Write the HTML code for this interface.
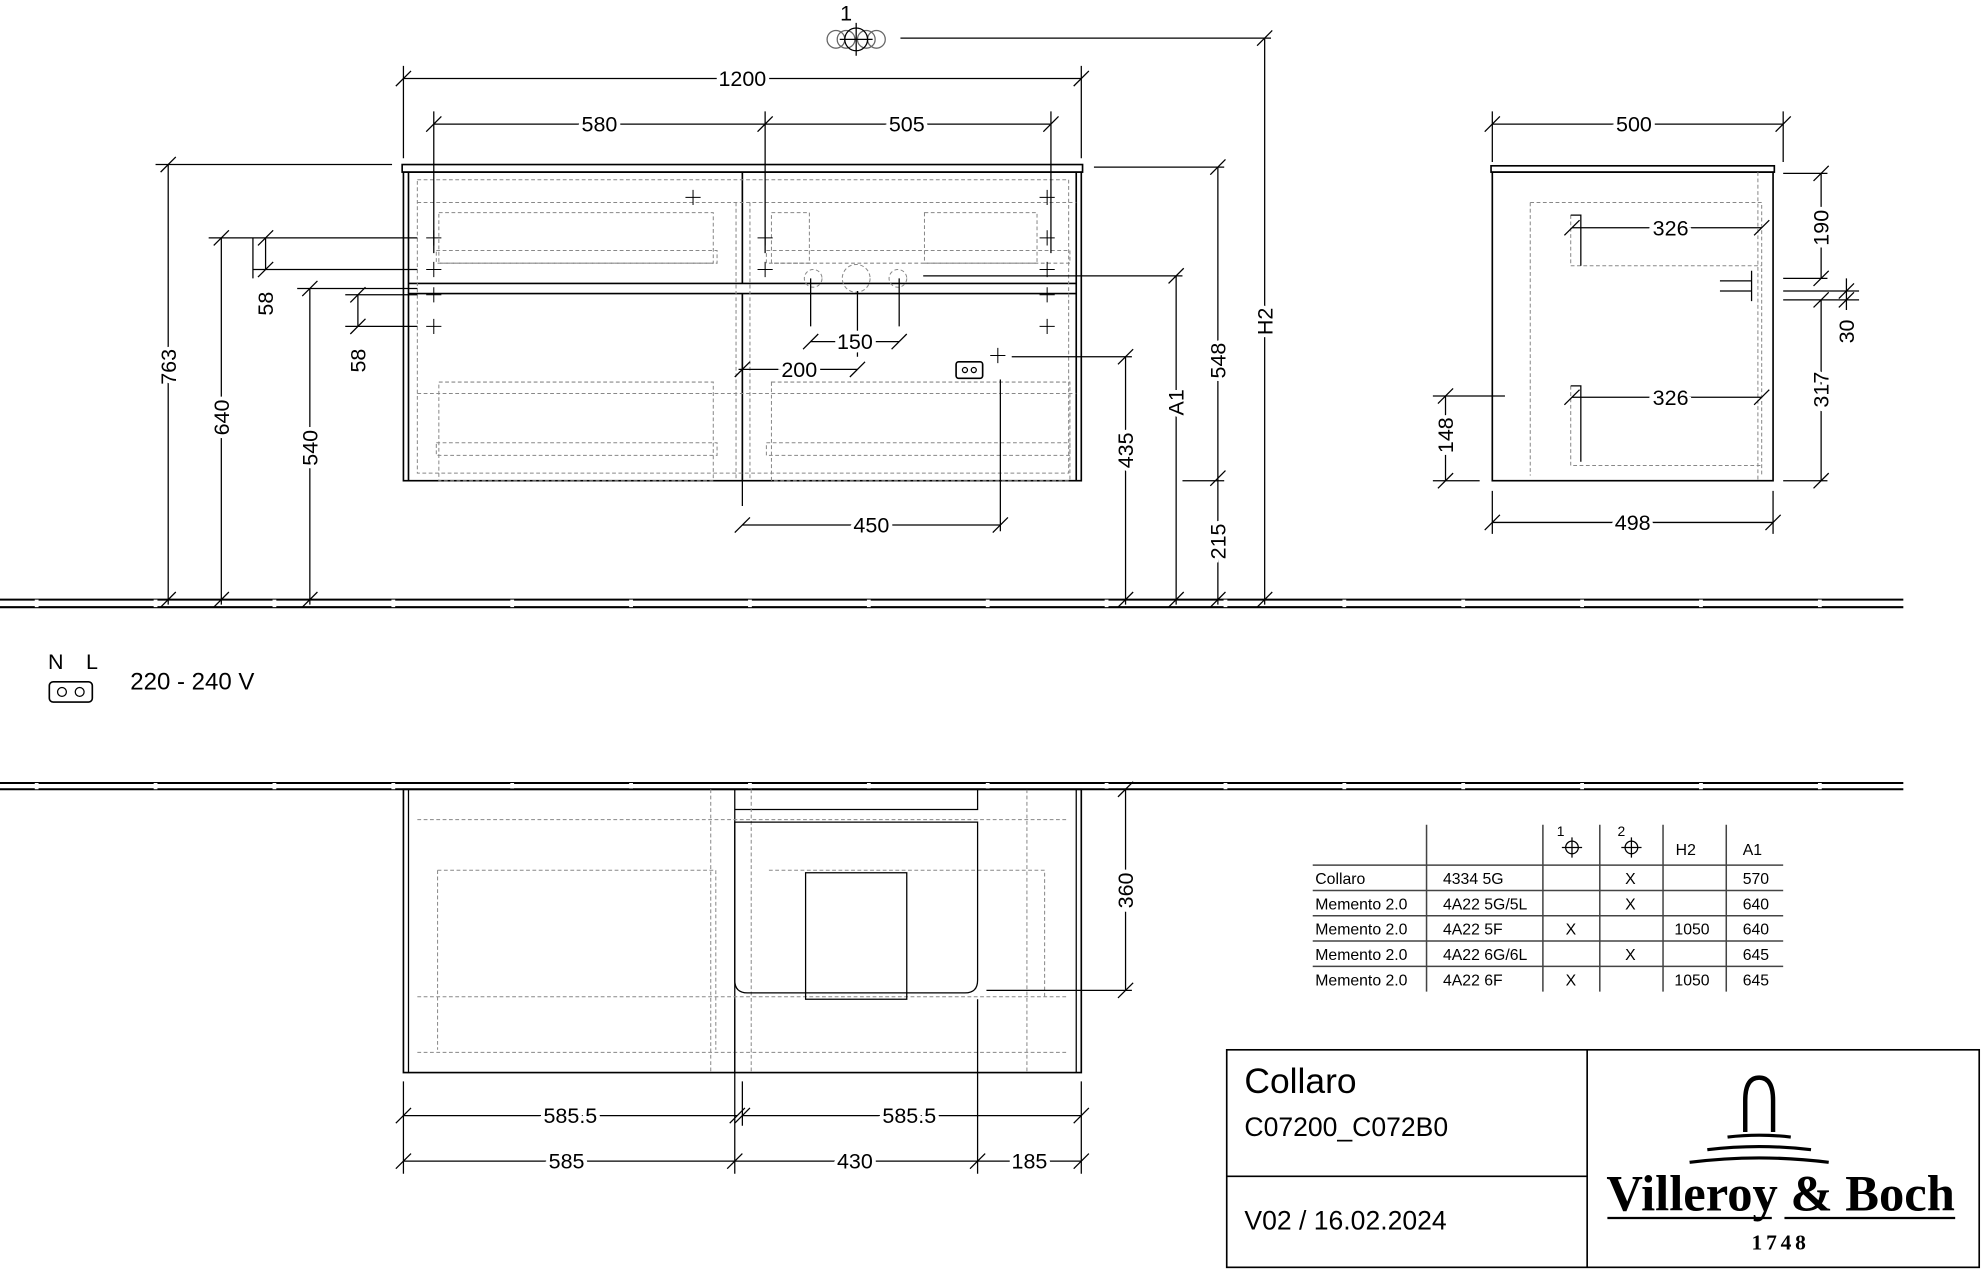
<!DOCTYPE html>
<html><head><meta charset="utf-8"><style>
html,body{margin:0;padding:0;background:#fff}
svg{display:block}
text{font-family:"Liberation Sans",sans-serif;fill:#000}
.d{font-family:"DejaVu Sans Condensed","DejaVu Sans","Liberation Sans",sans-serif;font-size:17px}
</style></head><body>
<svg width="1983" height="1270" viewBox="0 0 1568 1004" xmlns="http://www.w3.org/2000/svg">
<defs><path id="t" d="M-6,6 L6,-6" stroke="#000" stroke-width="1"/></defs>
<g fill="none" stroke="#000" stroke-width="1">
<path d="M0,474H1505M0,480H1505M0,619H1505M0,624H1505" stroke-width="1.6"/>
<g stroke="#fff" stroke-width="3"><path d="M29,474V480M123,474V480M217,474V480M311,474V480M405,474V480M499,474V480M593,474V480M687,474V480M781,474V480M875,474V480M969,474V480M1063,474V480M1157,474V480M1251,474V480M1345,474V480M1439,474V480M29,619V624M123,619V624M217,619V624M311,619V624M405,619V624M499,619V624M593,619V624M687,619V624M781,619V624M875,619V624M969,619V624M1063,619V624M1157,619V624M1251,619V624M1345,619V624M1439,619V624"/></g>
<rect x="318" y="130" width="538" height="6" stroke-width="1.3"/>
<rect x="319" y="136" width="536" height="244" stroke-width="1.3"/>
<path d="M323,136V380M851,136V380M587,136V224M587,232V380M323,224H851M323,232H851" stroke-width="1.3"/>
<g stroke="#888" stroke-dasharray="3,2" stroke-width="0.8">
<rect x="330" y="142" width="515" height="232"/>
<rect x="347" y="168" width="217" height="40"/><rect x="345" y="198" width="222" height="10"/>
<rect x="610" y="168" width="30" height="40"/><rect x="731" y="168" width="89" height="40"/><rect x="606" y="198" width="240" height="10"/>
<rect x="347" y="302" width="217" height="78"/><rect x="345" y="350" width="222" height="10"/>
<rect x="610" y="302" width="236" height="78"/><rect x="606" y="350" width="240" height="10"/>
<path d="M330,160H851M330,311H851M582,160V380M593,160V380"/>
<circle cx="643" cy="220" r="7"/><circle cx="677" cy="220" r="11"/><circle cx="710" cy="220" r="7"/>
</g>
<g stroke-width="0.8"><path d="M337,188h12m-6,-6v12M337,213h12m-6,-6v12M337,233h12m-6,-6v12M337,258h12m-6,-6v12M542,156h12m-6,-6v12M599,188h12m-6,-6v12M599,213h12m-6,-6v12M822,156h12m-6,-6v12M822,188h12m-6,-6v12M822,213h12m-6,-6v12M822,233h12m-6,-6v12M822,258h12m-6,-6v12M783,281h12m-6,-6v12"/></g>
<rect x="756" y="286" width="21" height="13" rx="2" stroke-width="1.3"/>
<circle cx="763" cy="292.5" r="2"/><circle cx="770" cy="292.5" r="2"/>
<path d="M319,52V125M855,52V125M319,62H855"/>
<path d="M343,88V200M605,88V200M831,88V200M343,98H831"/>
<path d="M123,130H310M133,130V478M165,188H330M175,188V478M235,228H330M245,228V478M200,188V220M210,188V213M200,213H330M273,233H330M283,233V258M273,258H330"/>
<path d="M641,258V220M711,258V220M641,270H711M584,292H678M678,282V230M587,415H791M587,400V380M791,300V420"/>
<path d="M800,282H895M890,282V478M730,218H935M930,218V478M865,132H968M963,132V478M935,380H968M1000,30V478M712,30H1005"/>
<g><use href="#t" x="319" y="62"/><use href="#t" x="855" y="62"/><use href="#t" x="343" y="98"/><use href="#t" x="605" y="98"/><use href="#t" x="831" y="98"/>
<use href="#t" x="133" y="130"/><use href="#t" x="133" y="474"/><use href="#t" x="175" y="188"/><use href="#t" x="175" y="474"/><use href="#t" x="245" y="228"/><use href="#t" x="245" y="474"/>
<use href="#t" x="210" y="188"/><use href="#t" x="210" y="213"/><use href="#t" x="283" y="233"/><use href="#t" x="283" y="258"/>
<use href="#t" x="641" y="270"/><use href="#t" x="711" y="270"/><use href="#t" x="587" y="292"/><use href="#t" x="678" y="292"/><use href="#t" x="587" y="415"/><use href="#t" x="791" y="415"/>
<use href="#t" x="890" y="282"/><use href="#t" x="890" y="474"/><use href="#t" x="930" y="218"/><use href="#t" x="930" y="474"/><use href="#t" x="963" y="132"/><use href="#t" x="963" y="378"/><use href="#t" x="963" y="474"/><use href="#t" x="1000" y="30"/><use href="#t" x="1000" y="474"/></g>
<circle cx="661" cy="31" r="7" stroke="#666"/><circle cx="669" cy="31" r="7" stroke="#666"/><circle cx="685" cy="31" r="7" stroke="#666"/><circle cx="693" cy="31" r="7" stroke="#666"/><circle cx="677" cy="31" r="9"/><path d="M664,31H690M677,18V44"/>
<rect x="1179" y="131" width="224" height="5" stroke-width="1.3"/>
<rect x="1180" y="136" width="222" height="244" stroke-width="1.3"/>
<g stroke="#888" stroke-dasharray="3,2" stroke-width="0.8"><path d="M1210,160H1393V376M1210,160V376M1242,170V210H1393M1242,305V368H1393M1390,136V380"/></g>
<path d="M1242,170h8v40M1242,305h8v60M1360,222h25M1360,230h25M1385,214v24"/>
<path d="M1180,88V128M1410,88V128M1180,98H1410M1180,388V422M1402,388V422M1180,413H1402"/>
<path d="M1243,180H1393M1243,314H1393M1410,137H1445M1440,137V220M1410,220H1445M1410,230H1470M1410,237H1470M1460,220V245M1440,237V380M1410,380H1445M1133,313H1190M1143,313V380M1133,380H1170"/>
<g><use href="#t" x="1180" y="98"/><use href="#t" x="1410" y="98"/><use href="#t" x="1180" y="413"/><use href="#t" x="1402" y="413"/><use href="#t" x="1243" y="180"/><use href="#t" x="1393" y="180"/><use href="#t" x="1243" y="314"/><use href="#t" x="1393" y="314"/><use href="#t" x="1440" y="137"/><use href="#t" x="1440" y="220"/><use href="#t" x="1440" y="237"/><use href="#t" x="1440" y="380"/><use href="#t" x="1460" y="230"/><use href="#t" x="1460" y="237"/><use href="#t" x="1143" y="313"/><use href="#t" x="1143" y="380"/></g>
<rect x="319" y="624" width="536" height="224" stroke-width="1.3"/>
<path d="M323,624V848M851,624V848M581,624V848M581,640H773V624" stroke-width="1"/>
<g stroke="#888" stroke-dasharray="3,2" stroke-width="0.8"><path d="M330,648H845M330,788H845M330,832H845M346,688H566V830M346,688V830M562,624V848M594,624V848M812,624V848M608,688H826V790"/></g>
<path d="M581,650H773V775Q773,785 763,785H591Q581,785 581,775Z"/>
<rect x="637" y="690" width="80" height="100"/>
<path d="M770,624H895M890,624V783M780,783H895"/>
<path d="M319,855V928M855,855V928M581,790V928M587,855V890M773,790V928M319,882H583M587,882H855M319,918H855"/>
<g><use href="#t" x="890" y="624"/><use href="#t" x="890" y="783"/><use href="#t" x="319" y="882"/><use href="#t" x="583" y="882"/><use href="#t" x="587" y="882"/><use href="#t" x="855" y="882"/><use href="#t" x="319" y="918"/><use href="#t" x="581" y="918"/><use href="#t" x="773" y="918"/><use href="#t" x="855" y="918"/></g>
<rect x="39" y="539" width="34" height="16" rx="3" stroke-width="1.3"/><circle cx="49" cy="547" r="3.5"/><circle cx="63" cy="547" r="3.5"/>
<path d="M1038,684H1410M1038,704H1410M1038,724H1410M1038,744H1410M1038,764H1410M1128,652V784M1220,652V784M1265,652V784M1315,652V784M1365,652V784" stroke="#444" stroke-width="1.2"/>
<circle cx="1243" cy="670" r="5"/><path d="M1235,670H1251M1243,662V678"/><circle cx="1290" cy="670" r="5"/><path d="M1282,670H1298M1290,662V678"/>
<rect x="970" y="830" width="595" height="172" stroke-width="1.3"/>
<path d="M1255,830V1002M970,930H1255" stroke-width="1.3"/>
<path d="M1380,895V870Q1380,852 1391,852Q1402,852 1402,870V895" stroke-width="3.5"/>
<path d="M1366,899Q1391,896 1416,899M1350,909Q1391,904 1432,909M1336,919Q1391,912 1446,919" stroke-width="2.5"/>
<path d="M1271,963H1401M1411,963H1546" stroke-width="1.8"/>
</g>
<g class="d" text-anchor="middle">
<text x="587" y="68" stroke="#fff" stroke-width="6" style="paint-order:stroke">1200</text>
<text x="474" y="104" stroke="#fff" stroke-width="6" style="paint-order:stroke">580</text>
<text x="717" y="104" stroke="#fff" stroke-width="6" style="paint-order:stroke">505</text>
<text x="676" y="276" stroke="#fff" stroke-width="6" style="paint-order:stroke">150</text>
<text x="632" y="298" stroke="#fff" stroke-width="6" style="paint-order:stroke">200</text>
<text x="689" y="421" stroke="#fff" stroke-width="6" style="paint-order:stroke">450</text>
<text x="1292" y="104" stroke="#fff" stroke-width="6" style="paint-order:stroke">500</text>
<text x="1291" y="419" stroke="#fff" stroke-width="6" style="paint-order:stroke">498</text>
<text x="1321" y="186" stroke="#fff" stroke-width="6" style="paint-order:stroke">326</text>
<text x="1321" y="320" stroke="#fff" stroke-width="6" style="paint-order:stroke">326</text>
<text x="451" y="888" stroke="#fff" stroke-width="6" style="paint-order:stroke">585.5</text>
<text x="719" y="888" stroke="#fff" stroke-width="6" style="paint-order:stroke">585.5</text>
<text x="448" y="924" stroke="#fff" stroke-width="6" style="paint-order:stroke">585</text>
<text x="676" y="924" stroke="#fff" stroke-width="6" style="paint-order:stroke">430</text>
<text x="814" y="924" stroke="#fff" stroke-width="6" style="paint-order:stroke">185</text>
<text x="669" y="16">1</text>
<text transform="translate(139,290) rotate(-90)" stroke="#fff" stroke-width="6" style="paint-order:stroke">763</text>
<text transform="translate(181,330) rotate(-90)" stroke="#fff" stroke-width="6" style="paint-order:stroke">640</text>
<text transform="translate(251,354) rotate(-90)" stroke="#fff" stroke-width="6" style="paint-order:stroke">540</text>
<text transform="translate(216,240) rotate(-90)">58</text>
<text transform="translate(289,285) rotate(-90)">58</text>
<text transform="translate(896,356) rotate(-90)" stroke="#fff" stroke-width="6" style="paint-order:stroke">435</text>
<text transform="translate(936,318) rotate(-90)" stroke="#fff" stroke-width="6" style="paint-order:stroke">A1</text>
<text transform="translate(969,285) rotate(-90)" stroke="#fff" stroke-width="6" style="paint-order:stroke">548</text>
<text transform="translate(969,428) rotate(-90)" stroke="#fff" stroke-width="6" style="paint-order:stroke">215</text>
<text transform="translate(1006,254) rotate(-90)" stroke="#fff" stroke-width="6" style="paint-order:stroke">H2</text>
<text transform="translate(1446,180) rotate(-90)" stroke="#fff" stroke-width="6" style="paint-order:stroke">190</text>
<text transform="translate(1466,262) rotate(-90)">30</text>
<text transform="translate(1446,308) rotate(-90)" stroke="#fff" stroke-width="6" style="paint-order:stroke">317</text>
<text transform="translate(1149,344) rotate(-90)" stroke="#fff" stroke-width="6" style="paint-order:stroke">148</text>
<text transform="translate(896,704) rotate(-90)" stroke="#fff" stroke-width="6" style="paint-order:stroke">360</text>
</g>
<text x="38" y="529" font-size="17">N</text><text x="68" y="529" font-size="17">L</text>
<text x="103" y="545" font-size="19">220 - 240 V</text>
<g font-size="12.5">
<text x="1325" y="676">H2</text><text x="1378" y="676">A1</text><text x="1231" y="661" font-size="11">1</text><text x="1279" y="661" font-size="11">2</text>
<text x="1040" y="699">Collaro</text><text x="1141" y="699">4334 5G</text><text x="1285" y="699">X</text><text x="1378" y="699">570</text>
<text x="1040" y="719">Memento 2.0</text><text x="1141" y="719">4A22 5G/5L</text><text x="1285" y="719">X</text><text x="1378" y="719">640</text>
<text x="1040" y="739">Memento 2.0</text><text x="1141" y="739">4A22 5F</text><text x="1238" y="739">X</text><text x="1324" y="739">1050</text><text x="1378" y="739">640</text>
<text x="1040" y="759">Memento 2.0</text><text x="1141" y="759">4A22 6G/6L</text><text x="1285" y="759">X</text><text x="1378" y="759">645</text>
<text x="1040" y="779">Memento 2.0</text><text x="1141" y="779">4A22 6F</text><text x="1238" y="779">X</text><text x="1324" y="779">1050</text><text x="1378" y="779">645</text>
</g>
<text x="984" y="864" font-size="28">Collaro</text>
<text x="984" y="898" font-size="21">C07200_C072B0</text>
<text x="984" y="972" font-size="21">V02 / 16.02.2024</text>
<text x="1408" y="957" font-size="40" font-weight="bold" text-anchor="middle" style="font-family:'Liberation Serif',serif">Villeroy &amp; Boch</text>
<text x="1408" y="988" font-size="17" font-weight="bold" text-anchor="middle" letter-spacing="3" style="font-family:'Liberation Serif',serif">1748</text>
</svg>
</body></html>
